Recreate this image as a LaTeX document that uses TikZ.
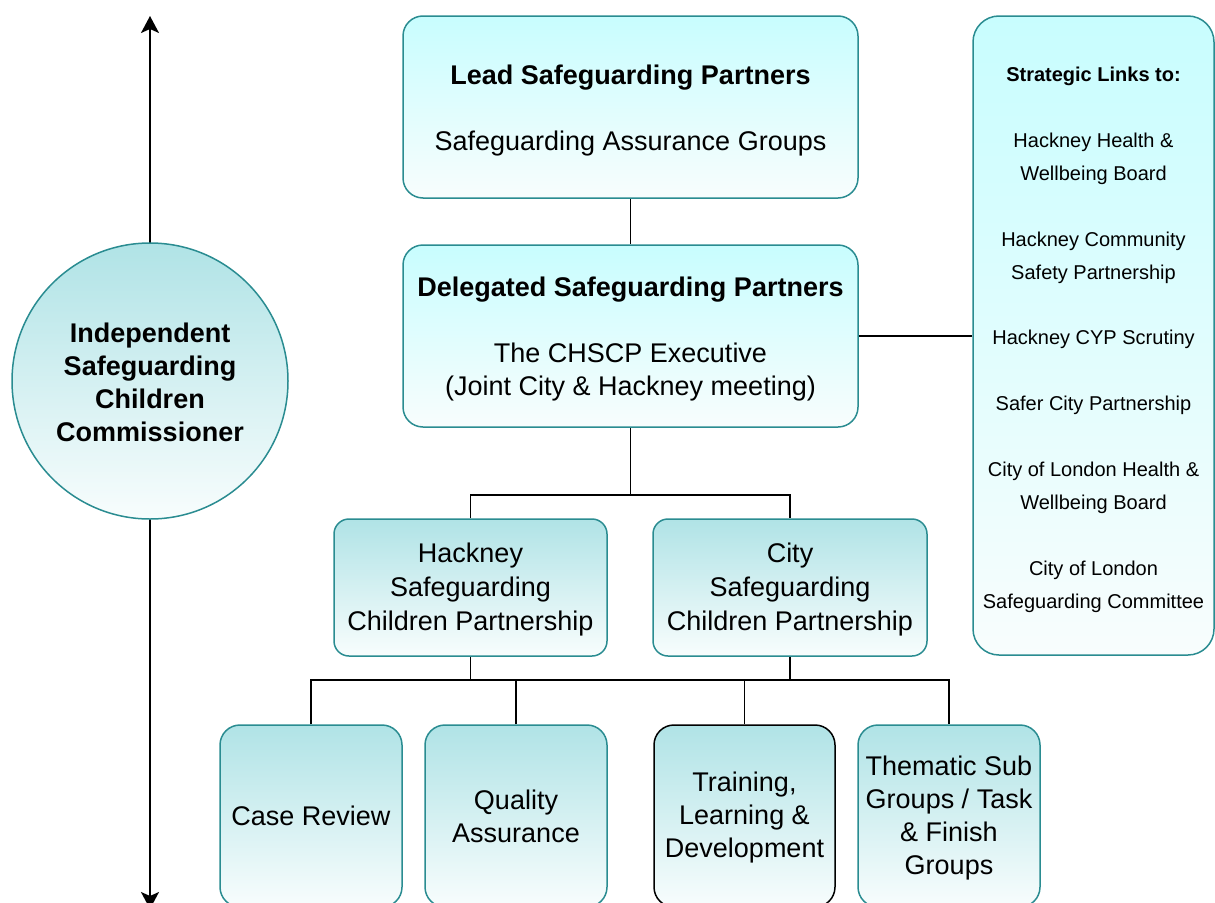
\documentclass[tikz,border=0pt]{standalone}
\usepackage{fontspec}
\setmainfont{Liberation Sans}
\usetikzlibrary{arrows.meta}
\definecolor{edgeteal}{HTML}{2A8C91}
\definecolor{paleaqua}{HTML}{C8FDFE}
\definecolor{softteal}{HTML}{B0E3E6}
\definecolor{mistwhite}{HTML}{F8FDFD}
% invisible strut that lowers a text block slightly inside its box
\newcommand{\padfirst}[1]{\rule{0pt}{#1}}
\tikzset{
  x=1pt, y=-1pt,
  boxbase/.style={draw=edgeteal, line width=1.5pt, inner sep=0pt, align=center,
    font=\fontsize{27}{33}\selectfont},
  topbox/.style={boxbase, rounded corners=20pt, top color=paleaqua, bottom color=mistwhite,
    minimum width=455pt, minimum height=182pt},
  partbox/.style={boxbase, rounded corners=15pt, top color=softteal, bottom color=mistwhite,
    minimum width=273pt, minimum height=137pt, font=\fontsize{27}{34}\selectfont},
  groupbox/.style={boxbase, rounded corners=20pt, top color=softteal, bottom color=mistwhite,
    minimum width=182pt, minimum height=182pt},
  linkbox/.style={boxbase, rounded corners=26pt, top color=paleaqua, bottom color=mistwhite,
    minimum width=241pt, minimum height=639pt, font=\fontsize{20}{32.9}\selectfont},
  commbox/.style={boxbase, circle, top color=softteal, bottom color=mistwhite,
    minimum size=276pt, font=\bfseries\fontsize{27}{33}\selectfont},
  wire/.style={draw=black, line width=1.8pt},
}
\begin{document}
\begin{tikzpicture}
\useasboundingbox (0,0) rectangle (1215,902);
\clip (0,0) rectangle (1215,902);

% vertical scope arrow behind the commissioner
\coordinate (atop) at (150,16);
\coordinate (abot) at (150,909);
\draw[wire, {Stealth[length=17pt,width=18pt,inset=4pt]}-{Stealth[length=17pt,width=18pt,inset=4pt]}] (atop) -- (abot);

\node[commbox] (comm) at (150,381) {\padfirst{22pt}Independent\\Safeguarding\\Children\\Commissioner};

% main hierarchy
\node[topbox] (lead) at (630.5,107) {\padfirst{26pt}\textbf{Lead Safeguarding Partners}\\[33pt]Safeguarding Assurance Groups};
\node[topbox] (deleg) at (630.5,336) {\padfirst{26pt}\textbf{Delegated Safeguarding Partners}\\[33pt]The CHSCP Executive\\(Joint City \& Hackney meeting)};

\node[linkbox] (links) at (1093.5,335.5) {\padfirst{23pt}\textbf{Strategic Links to:}\\[32.9pt]
  Hackney Health \&\\Wellbeing Board\\[32.9pt]
  Hackney Community\\Safety Partnership\\[32.9pt]
  Hackney CYP Scrutiny\\[32.9pt]
  Safer City Partnership\\[32.9pt]
  City of London Health \&\\Wellbeing Board\\[32.9pt]
  City of London\\Safeguarding Committee};

\node[partbox] (hack) at (470.5,587.5) {\padfirst{24pt}Hackney\\Safeguarding\\Children Partnership};
\node[partbox, minimum width=274pt] (city) at (790,587.5) {\padfirst{24pt}City\\Safeguarding\\Children Partnership};

\node[groupbox] (cr) at (311,816) {Case Review};
\node[groupbox] (qa) at (516,816) {Quality\\Assurance};
\node[groupbox, draw=black, minimum width=181pt] (tld) at (744.5,816) {\padfirst{22pt}Training,\\Learning \&\\Development};
\node[groupbox] (tsg) at (949,816) {\padfirst{24pt}Thematic Sub\\Groups / Task\\\& Finish\\Groups};

% connectors
\coordinate (j1) at (630.5,495);
\coordinate (j2) at (630.5,680);
\draw[wire] (lead.south) -- (deleg.north);
\draw[wire] (deleg.east) -- (deleg.east -| links.west);
\draw[wire] (deleg.south) -- (j1);
\draw[wire] (hack.north) |- (j1) -| (city.north);
\draw[wire] (hack.south) -- (hack.south |- j2);
\draw[wire] (city.south) -- (city.south |- j2);
\draw[wire] (cr.north) |- (j2) -| (tsg.north);
\draw[wire] (qa.north) -- (qa.north |- j2);
\draw[wire] (tld.north) -- (tld.north |- j2);
\end{tikzpicture}
\end{document}
